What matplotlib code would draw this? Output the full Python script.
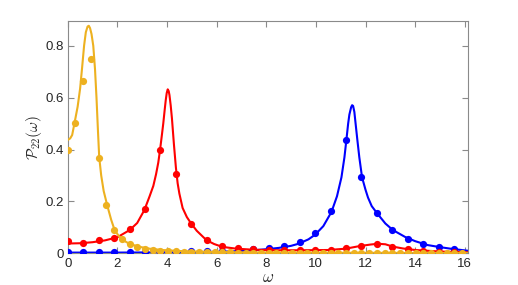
import matplotlib
matplotlib.use("Agg")
import matplotlib.pyplot as plt
import numpy as np

# ---- data ----
# smooth curves
xo_line = [0, 0.1, 0.18, 0.3, 0.4, 0.5, 0.58, 0.66, 0.73, 0.8, 0.85, 0.9, 0.96, 1.03, 1.1, 1.16,
           1.22, 1.27, 1.35, 1.45, 1.59, 1.75, 1.89, 2.05, 2.23, 2.5, 2.9, 3.3, 3.8, 4.5, 5.5, 7,
           9, 12, 16.14]
yo_line = [0.437, 0.443, 0.456, 0.515, 0.565, 0.635, 0.715, 0.80, 0.852, 0.874, 0.877, 0.868,
           0.845, 0.80, 0.71, 0.60, 0.47, 0.37, 0.30, 0.24, 0.186, 0.13, 0.090, 0.068, 0.051,
           0.036, 0.025, 0.018, 0.013, 0.009, 0.006, 0.004, 0.003, 0.002, 0.001]

xr_line = [0, 0.5, 1.0, 1.5, 2.0, 2.5, 2.8, 3.09, 3.3, 3.45, 3.56, 3.65, 3.72, 3.8, 3.85, 3.91,
           3.95, 3.99, 4.03, 4.07, 4.1, 4.15, 4.2, 4.28, 4.36, 4.43, 4.5, 4.63, 4.8, 4.96, 5.2,
           5.59, 5.9, 6.23, 6.8, 7.5, 8.5, 9.5, 10.5, 11.2, 11.7, 12.2, 12.5, 12.8, 13.1, 13.5,
           14, 15, 16.14]
yr_line = [0.038, 0.039, 0.043, 0.050, 0.062, 0.090, 0.117, 0.167, 0.22, 0.26, 0.305, 0.35,
           0.398, 0.46, 0.50, 0.555, 0.59, 0.618, 0.632, 0.625, 0.61, 0.57, 0.52, 0.42, 0.33,
           0.27, 0.23, 0.175, 0.14, 0.117, 0.087, 0.051, 0.036, 0.025, 0.018, 0.014, 0.012,
           0.012, 0.013, 0.018, 0.027, 0.034, 0.037, 0.035, 0.026, 0.019, 0.013, 0.007, 0.004]

xb_line = [0, 2, 4, 5, 6, 7, 7.5, 8, 8.5, 9, 9.3, 9.7, 9.97, 10.3, 10.63, 10.85, 11.03, 11.15,
           11.23, 11.3, 11.35, 11.42, 11.46, 11.5, 11.55, 11.6, 11.67, 11.75, 11.86, 12.0, 12.1,
           12.25, 12.47, 12.8, 13.1, 13.6, 14.0, 14.5, 15.0, 15.5, 16.14]
yb_line = [0.003, 0.003, 0.004, 0.005, 0.006, 0.009, 0.012, 0.016, 0.021, 0.029, 0.037, 0.054,
           0.072, 0.105, 0.160, 0.220, 0.293, 0.37, 0.438, 0.50, 0.535, 0.563, 0.571, 0.568,
           0.545, 0.50, 0.438, 0.37, 0.293, 0.245, 0.215, 0.182, 0.154, 0.115, 0.090, 0.063,
           0.047, 0.032, 0.024, 0.017, 0.010]

# sampled points
step_rb = 0.623
step_o = 0.3115
o_pts = [0.397, 0.504, 0.665, 0.748, 0.366, 0.186, 0.090, 0.054, 0.037, 0.026, 0.018, 0.014,
         0.011, 0.009, 0.008, 0.007, 0.006, 0.005, 0.005, 0.004, 0.004, 0.004, 0.003, 0.003,
         0.003, 0.003, 0.003, 0.003, 0.002, 0.002, 0.002, 0.002, 0.002, 0.002, 0.002, 0.002,
         0.002, 0.002, 0.002, 0.002, 0.002, 0.002, 0.002, 0.001, 0.001, 0.001, 0.001, 0.001,
         0.001, 0.001, 0.001, 0.001]
r_pts = [0.049, 0.041, 0.050, 0.061, 0.092, 0.170, 0.398, 0.307, 0.114, 0.053, 0.030, 0.019,
         0.015, 0.013, 0.013, 0.013, 0.013, 0.014, 0.019, 0.028, 0.035, 0.026, 0.016, 0.009,
         0.007, 0.006]
b_pts = [0.005, 0.005, 0.005, 0.005, 0.005, 0.006, 0.006, 0.007, 0.008, 0.009, 0.010, 0.012,
         0.015, 0.020, 0.029, 0.042, 0.077, 0.163, 0.438, 0.293, 0.154, 0.091, 0.055, 0.035,
         0.025, 0.017]

xticks = [0, 2, 4, 6, 8, 10, 12, 14, 16]
yticks = [0, 0.2, 0.4, 0.6, 0.8]
ytick_labels = ["0", "0.2", "0.4", "0.6", "0.8"]

c_orange = "#EDB120"
c_red = "#FF0000"
c_blue = "#0000FF"

plt.rcParams["font.family"] = ["Liberation Sans", "DejaVu Sans"]
plt.rcParams["mathtext.fontset"] = "cm"

fig = plt.figure(figsize=(5.18, 2.85), dpi=100)
ax = fig.add_axes([0.1307, 0.111, 0.7733, 0.815])

xo_pts = np.arange(len(o_pts)) * step_o
xr_pts = np.arange(len(r_pts)) * step_rb
xb_pts = np.arange(len(b_pts)) * step_rb

ax.plot(xb_line, yb_line, color=c_blue, lw=1.5, zorder=2)
ax.plot(xb_pts, b_pts, "o", color=c_blue, ms=5.2, mec="none", zorder=3)
ax.plot(xr_line, yr_line, color=c_red, lw=1.5, zorder=4)
ax.plot(xr_pts, r_pts, "o", color=c_red, ms=5.2, mec="none", zorder=5)
ax.plot(xo_line, yo_line, color=c_orange, lw=1.5, zorder=6)
ax.plot(xo_pts, o_pts, "o", color=c_orange, ms=5.2, mec="none", zorder=7)

ax.set_xlim(0, 16.14)
ax.set_ylim(0, 0.895)
ax.set_xticks(xticks)
ax.set_yticks(yticks)
ax.set_yticklabels(ytick_labels)

for s in ax.spines.values():
    s.set_color("#8a8a8a")
    s.set_linewidth(0.8)
ax.tick_params(direction="in", length=4, width=0.8, color="#8a8a8a",
               top=True, right=True, labelsize=9.5, labelcolor="#262626", pad=3)

ax.set_xlabel(r"$\omega$", fontsize=12, color="#262626", labelpad=0)
ax.set_ylabel(r"$\mathcal{P}_{22}(\omega)$", fontsize=11, color="#262626", labelpad=1)

fig.savefig("out.png", dpi=100)
